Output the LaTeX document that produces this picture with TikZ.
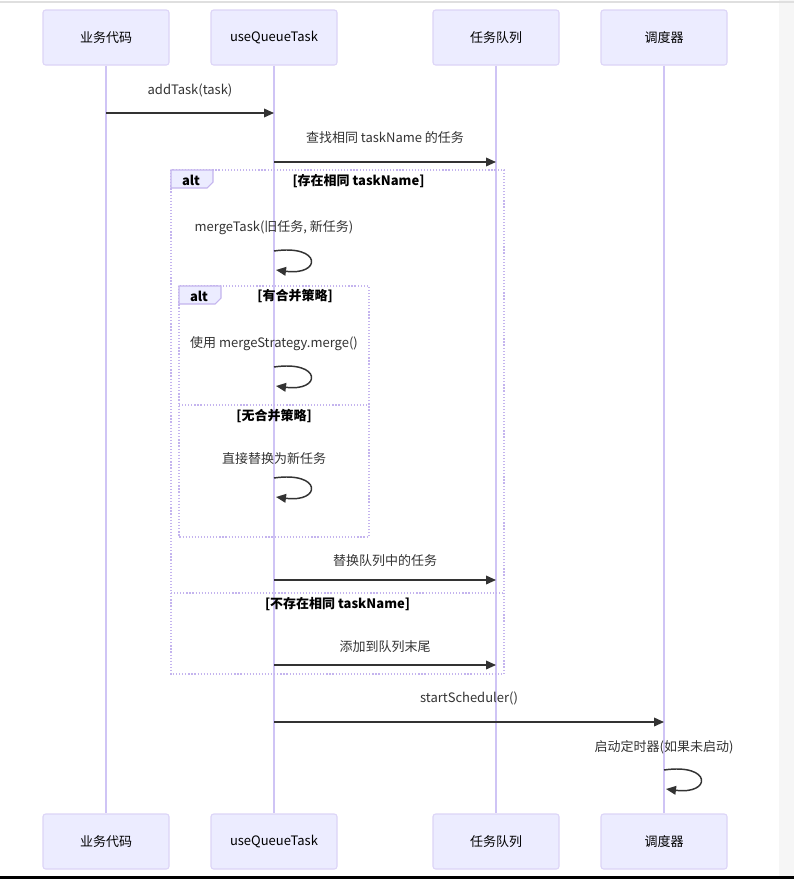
\documentclass[tikz,border=0pt]{standalone}
\usepackage{fontspec}
\setmainfont{Noto Sans CJK SC}
\usetikzlibrary{arrows.meta}
\definecolor{actfill}{HTML}{ECECFF}
\definecolor{actline}{HTML}{DCD4F7}
\definecolor{lifecol}{HTML}{CFC4F5}
\definecolor{altcol}{HTML}{C4B4EE}
\definecolor{msgcol}{HTML}{333333}
\definecolor{txtcol}{HTML}{333333}
\tikzset{
  actor/.style={draw=actline, fill=actfill, rounded corners=2pt, line width=0.8pt,
    minimum width=94.5pt, minimum height=41.25pt, inner sep=0pt,
    font=\fontsize{9.75}{12}\selectfont, text=black},
  life/.style={draw=lifecol, line width=0.9pt},
  msg/.style={draw=msgcol, line width=1.1pt, -{Triangle[length=7.5pt,width=6.5pt]}},
  msglabel/.style={font=\fontsize{9.75}{12}\selectfont, text=txtcol, inner sep=0pt},
  altbox/.style={draw=altcol, line width=0.9pt, dash pattern=on 0.9pt off 1.4pt},
  alttab/.style={draw=altcol, fill=actfill, line width=0.8pt},
  altlabel/.style={font=\fontsize{9.75}{12}\selectfont\bfseries, text=black, inner sep=0pt},
  condlabel/.style={font=\fontsize{9.75}{12}\selectfont\bfseries, text=black, inner sep=0pt}
}
\begin{document}
\begin{tikzpicture}[x=0.75pt,y=-0.75pt]
\useasboundingbox (0,0) rectangle (794,879);
\fill[white] (0,0) rectangle (794,879);
\fill[gray!7] (779,0) rectangle (794,876);
\draw[gray!25, line width=0.8pt] (0,2) -- (794,2);
\fill[black] (0,876) rectangle (794,879);

% actors
\node[actor] (a1) at (106,37.5) {业务代码};
\node[actor] (a2) at (274,37.5) {useQueueTask};
\node[actor] (a3) at (496,37.5) {任务队列};
\node[actor] (a4) at (664,37.5) {调度器};
\node[actor] (b1) at (106,841.5) {业务代码};
\node[actor] (b2) at (274,841.5) {useQueueTask};
\node[actor] (b3) at (496,841.5) {任务队列};
\node[actor] (b4) at (664,841.5) {调度器};

% lifelines
\draw[life] (a1.south) -- (b1.north);
\draw[life] (a2.south) -- (b2.north);
\draw[life] (a3.south) -- (b3.north);
\draw[life] (a4.south) -- (b4.north);

% outer alt
\draw[altbox] (171,170) rectangle (504,674);
\draw[altbox] (171,593) -- (504,593);
\draw[alttab] (171,170) -- (213,170) -- (213,182) -- (207,188) -- (171,188) -- cycle;
\node[altlabel] (alt1) at (191,180) {alt};
\node[condlabel] (c1) at (358.5,181) {[存在相同 taskName]};
\node[condlabel] (c2) at (337.5,604) {[不存在相同 taskName]};

% inner alt
\draw[altbox] (179,286) rectangle (369,537);
\draw[altbox] (179,405) -- (369,405);
\draw[alttab] (179,286) -- (221,286) -- (221,298) -- (215,304) -- (179,304) -- cycle;
\node[altlabel] (alt2) at (199,296) {alt};
\node[condlabel] (c3) at (295,296) {[有合并策略]};
\node[condlabel] (c4) at (274,416) {[无合并策略]};

% message 1
\coordinate (m1s) at (106,113); \coordinate (m1e) at (274,113);
\node[msglabel] (t1) at (190,90) {addTask(task)};
\draw[msg] (m1s) -- (m1e);

% message 2
\coordinate (m2s) at (274,162); \coordinate (m2e) at (496,162);
\node[msglabel] (t2) at (385,138) {查找相同 taskName 的任务};
\draw[msg] (m2s) -- (m2e);

% self 1
\coordinate (s1s) at (274,251); \coordinate (s1e) at (276,270);
\node[msglabel] (t3) at (274,228) {mergeTask(旧任务, 新任务)};
\draw[msg] (s1s) .. controls (322,244) and (322,276) .. (s1e);

% self 2
\coordinate (s2s) at (274,367); \coordinate (s2e) at (276,386);
\node[msglabel] (t4) at (274,344) {使用 mergeStrategy.merge()};
\draw[msg] (s2s) .. controls (322,360) and (322,392) .. (s2e);

% self 3
\coordinate (s3s) at (274,478); \coordinate (s3e) at (276,497);
\node[msglabel] (t5) at (274,459) {直接替换为新任务};
\draw[msg] (s3s) .. controls (322,471) and (322,503) .. (s3e);

% message 6
\coordinate (m6s) at (274,580); \coordinate (m6e) at (496,580);
\node[msglabel] (t6) at (385,561) {替换队列中的任务};
\draw[msg] (m6s) -- (m6e);

% message 7
\coordinate (m7s) at (274,665); \coordinate (m7e) at (496,665);
\node[msglabel] (t7) at (385,647) {添加到队列末尾};
\draw[msg] (m7s) -- (m7e);

% message 8
\coordinate (m8s) at (274,722); \coordinate (m8e) at (664,722);
\node[msglabel] (t8) at (469,698) {startScheduler()};
\draw[msg] (m8s) -- (m8e);

% self 4
\coordinate (s4s) at (664,770); \coordinate (s4e) at (666,789);
\node[msglabel] (t9) at (664,747) {启动定时器(如果未启动)};
\draw[msg] (s4s) .. controls (712,763) and (712,795) .. (s4e);
\end{tikzpicture}
\end{document}
